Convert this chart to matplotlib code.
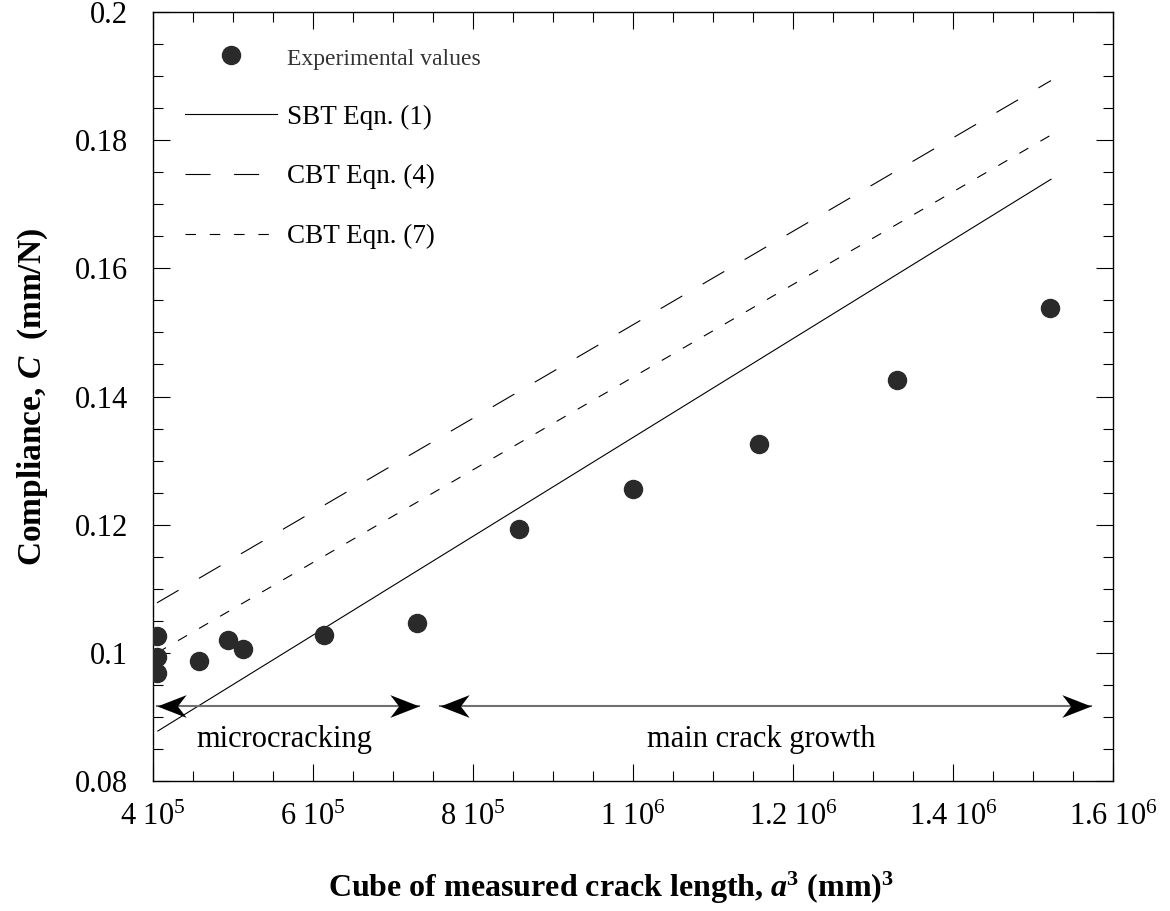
import numpy as np
import matplotlib
matplotlib.use("Agg")
import matplotlib.pyplot as plt
from matplotlib.path import Path
from matplotlib.ticker import MultipleLocator, FuncFormatter

##################################################################
# data
# experimental compliance vs cube of crack length
exp_x = [4.05e5, 4.05e5, 4.05e5, 4.58e5, 4.94e5, 5.12e5, 6.14e5,
         7.30e5, 8.58e5, 1.0004e6, 1.158e6, 1.33e6, 1.521e6]
exp_y = [0.1026, 0.0994, 0.0968, 0.0987, 0.1020, 0.1006, 0.1028,
         0.1047, 0.1193, 0.1256, 0.1326, 0.1425, 0.1538]

# model lines (end points)
sbt1_x = [4.06e5, 1.5225e6]
sbt1_y = [0.0878, 0.1739]
cbt4_x = [4.05e5, 1.5225e6]
cbt4_y = [0.1078, 0.1893]
cbt7_x = [4.05e5, 1.5225e6]
cbt7_y = [0.1000, 0.1808]

labels = ["Experimental values", "SBT Eqn. (1)", "CBT Eqn. (4)", "CBT Eqn. (7)"]

# regions marked by double arrows
region_names = ["microcracking", "main crack growth"]
region_start = [4.05e5, 7.59e5]
region_end = [7.325e5, 1.5725e6]
arrow_level = 0.0917
text_level = 0.0853

x_ticks = [4e5, 6e5, 8e5, 1e6, 1.2e6, 1.4e6, 1.6e6]
y_ticks = [0.08, 0.1, 0.12, 0.14, 0.16, 0.18, 0.2]

##################################################################
plt.rcParams['font.family'] = ['Liberation Serif', 'DejaVu Serif']
plt.rcParams['mathtext.fontset'] = 'custom'
plt.rcParams['mathtext.rm'] = 'Liberation Serif'
plt.rcParams['mathtext.it'] = 'Liberation Serif:italic'
plt.rcParams['mathtext.bf'] = 'Liberation Serif:bold'
plt.rcParams['mathtext.bfit'] = 'Liberation Serif:italic:bold'
plt.rcParams['lines.scale_dashes'] = False

fig = plt.figure(figsize=(11.7, 9.11), dpi=100)
ax = fig.add_axes([153/1170., 1 - 781/911., 960/1170., 769/911.])

dot_col = '#2a2a2a'
ax.plot(exp_x, exp_y, 'o', color=dot_col, markersize=13, linestyle='none',
        label=labels[0], zorder=4)
ax.plot(sbt1_x, sbt1_y, '-', color='k', lw=0.8, label=labels[1])
ax.plot(cbt4_x, cbt4_y, color='k', lw=0.8, dashes=(18, 17), label=labels[2])
ax.plot(cbt7_x, cbt7_y, color='k', lw=0.8, dashes=(7.5, 10), label=labels[3])

# notched arrow heads, tip sits on the marker position
head_r = Path([(0, 0), (-1, 0.39), (-0.7, 0), (-1, -0.39), (0, 0)],
              [Path.MOVETO, Path.LINETO, Path.LINETO, Path.LINETO, Path.CLOSEPOLY])
head_l = Path([(0, 0), (1, 0.39), (0.7, 0), (1, -0.39), (0, 0)],
              [Path.MOVETO, Path.LINETO, Path.LINETO, Path.LINETO, Path.CLOSEPOLY])

for name, x0, x1 in zip(region_names, region_start, region_end):
    ax.plot([x0, x1], [arrow_level, arrow_level], '-', color='#707070', lw=1.5, zorder=2)
    ax.plot([x0], [arrow_level], marker=head_l, markersize=42, color='k',
            markeredgewidth=0, linestyle='none', zorder=3)
    ax.plot([x1], [arrow_level], marker=head_r, markersize=42, color='k',
            markeredgewidth=0, linestyle='none', zorder=3)
    ax.text(0.5*(x0 + x1) - 5e3, text_level, name, ha='center', va='baseline',
            fontsize=22)

ax.set_xlim(4e5, 1.6e6)
ax.set_ylim(0.08, 0.2)

def xfmt(v, pos):
    e = int(np.floor(np.log10(v) + 1e-9))
    m = v / 10**e
    return "%g 10$^{%d}$" % (m, e)

ax.set_xticks(x_ticks)
ax.set_yticks(y_ticks)
ax.xaxis.set_major_formatter(FuncFormatter(xfmt))
ax.yaxis.set_major_formatter(FuncFormatter(lambda v, p: "%g" % v))
ax.xaxis.set_minor_locator(MultipleLocator(5e4))
ax.yaxis.set_minor_locator(MultipleLocator(0.005))
ax.tick_params(which='both', direction='in', top=True, right=True, width=0.8)
ax.tick_params(which='major', length=12.5, labelsize=22)
ax.tick_params(which='minor', length=7)
ax.tick_params(axis='y', pad=18)
ax.tick_params(axis='x', pad=16)
for s in ax.spines.values():
    s.set_linewidth(1.0)

ax.set_xlabel(r"Cube of measured crack length, $\mathbfit{a}^{\mathbf{3}}$ (mm)$^{\mathbf{3}}$",
              fontsize=23, fontweight='bold')
ax.xaxis.set_label_coords(0.477, -0.115)
ax.set_ylabel(r"Compliance, $\mathbfit{C}$  (mm/N)", fontsize=24, fontweight='bold',
              labelpad=18)

leg = ax.legend(loc='upper left', bbox_to_anchor=(0.033, 0.956), frameon=False,
                fontsize=19.5, handlelength=3.4, handletextpad=0.37,
                labelspacing=1.28, borderpad=0, borderaxespad=0, numpoints=1)
leg.get_texts()[0].set_fontsize(17)
leg.get_texts()[0].set_color('#333333')

fig.savefig("out.png", dpi=100)
